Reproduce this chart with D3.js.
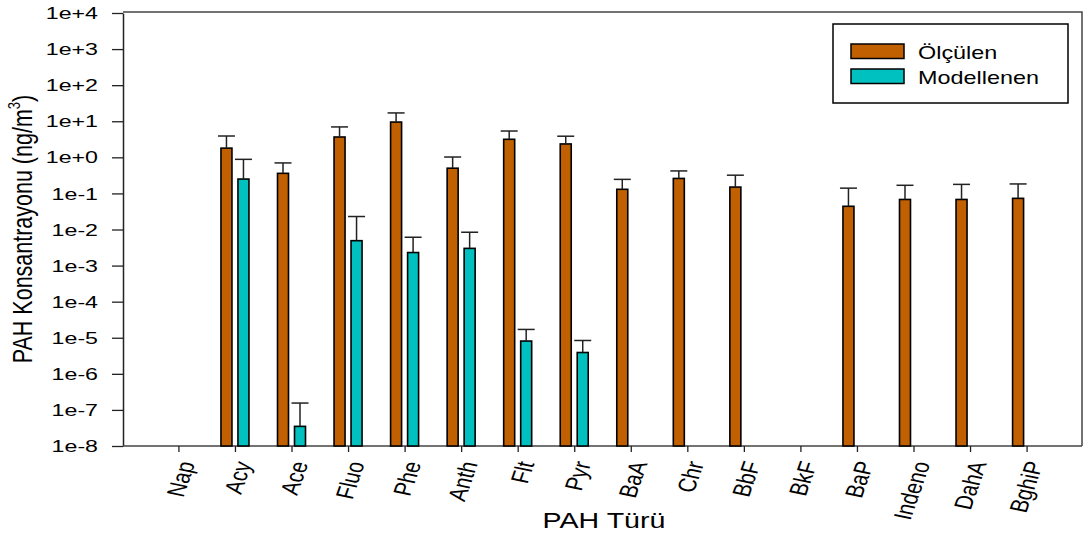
<!DOCTYPE html>
<html>
<head>
<meta charset="utf-8">
<script src="https://cdn.jsdelivr.net/npm/d3@7"></script>
<style>
  html, body { margin: 0; padding: 0; background: #fff; }
  svg { display: block; font-family: "Liberation Sans", Arial, sans-serif; }
</style>
</head>
<body>
<svg id="chart" width="1084" height="538"></svg>
<script>
// PAH species on the x axis
const categories = ["Nap", "Acy", "Ace", "Fluo", "Phe", "Anth", "Flt", "Pyr",
                    "BaA", "Chr", "BbF", "BkF", "BaP", "Indeno", "DahA", "BghiP"];

// Measured concentrations (ng/m3) and their standard deviations
const measured   = [null, 1.8, 0.36, 3.66, 9.5, 0.5, 3.16, 2.35,
                    0.13, 0.26, 0.15, null, 0.044, 0.068, 0.068, 0.073];
const measuredSd = [null, 2.1, 0.34, 3.3, 7.5, 0.52, 2.2, 1.5,
                    0.115, 0.16, 0.17, null, 0.096, 0.10, 0.11, 0.11];

// Modelled concentrations (ng/m3) and their standard deviations
const modelled   = [null, 0.25, 3.5e-8, 0.0049, 0.0023, 0.003, 8.1e-6, 3.9e-6,
                    null, null, null, null, null, null, null, null];
const modelledSd = [null, 0.63, 1.2e-7, 0.018, 0.0038, 0.0054, 8.9e-6, 4.5e-6,
                    null, null, null, null, null, null, null, null];

const seriesNames = ["Ölçülen", "Modellenen"];
const seriesColors = ["#c06000", "#00c0c0"];
const yTicks = [1e-8, 1e-7, 1e-6, 1e-5, 1e-4, 1e-3, 1e-2, 1e-1, 1, 1e1, 1e2, 1e3, 1e4];

const svg = d3.select("#chart");
const plotLeft = 123, plotRight = 1082, plotTop = 13, plotBottom = 446;
const textStretch = 1.3;

const x = d3.scalePoint().domain(categories).range([plotLeft, plotRight]).padding(0.98);
const y = d3.scaleLog().domain([1e-8, 1e4]).range([plotBottom, plotTop]);
const xs = d3.scaleBand().domain(seriesNames).range([-14, 14]).paddingInner(0.353).paddingOuter(0);

// plot frame (top and right)
svg.append("path")
  .attr("d", `M${plotLeft},${plotTop - 1}H${plotRight}V${plotBottom}`)
  .attr("fill", "none").attr("stroke", "#444").attr("stroke-width", 1.5);

// y axis
const yAxis = svg.append("g").attr("transform", `translate(${plotLeft},0)`)
  .call(d3.axisLeft(y).tickValues(yTicks).tickSize(11).tickSizeOuter(0)
    .tickFormat(d => { const e = Math.round(Math.log10(d)); return "1e" + (e >= 0 ? "+" : "") + e; }));
yAxis.select(".domain").attr("stroke", "#222").attr("stroke-width", 1.5);
yAxis.selectAll(".tick line").attr("stroke", "#222").attr("stroke-width", 1.3);
yAxis.selectAll(".tick text")
  .attr("x", 0).attr("dy", "0.35em")
  .attr("transform", "translate(-25,0) scale(1.45,1)")
  .attr("font-size", 16).attr("fill", "#000");

// x axis
const xAxis = svg.append("g").attr("transform", `translate(0,${plotBottom})`)
  .call(d3.axisBottom(x).tickSize(6).tickSizeOuter(0));
xAxis.select(".domain").attr("stroke", "#444").attr("stroke-width", 1.5)
  .attr("d", `M${plotLeft},0H${plotRight}`);
xAxis.selectAll(".tick line").attr("stroke", "#222").attr("stroke-width", 1.3);
xAxis.selectAll(".tick text")
  .attr("x", 0).attr("y", 0).attr("dy", "0.3em")
  .attr("text-anchor", "end")
  .attr("transform", `translate(9,16) scale(${textStretch},1) rotate(-75)`)
  .attr("font-size", 19.5).attr("fill", "#000");

// bars with upper error bars
const series = [
  { name: seriesNames[0], values: measured, sd: measuredSd, color: seriesColors[0] },
  { name: seriesNames[1], values: modelled, sd: modelledSd, color: seriesColors[1] }
];
series.forEach(s => {
  const rows = categories.map((c, i) => ({ c, v: s.values[i], e: s.sd[i] })).filter(d => d.v != null);
  const g = svg.append("g");
  g.selectAll("rect").data(rows).join("rect")
    .attr("x", d => x(d.c) + xs(s.name))
    .attr("y", d => y(d.v))
    .attr("width", xs.bandwidth())
    .attr("height", d => y(1e-8) - y(d.v))
    .attr("fill", s.color).attr("stroke", "#000").attr("stroke-width", 1.6);
  const eb = g.selectAll("g.err").data(rows).join("g").attr("class", "err")
    .attr("transform", d => `translate(${x(d.c) + xs(s.name) + xs.bandwidth() / 2},0)`);
  eb.append("line").attr("y1", d => y(d.v)).attr("y2", d => y(d.v + d.e))
    .attr("stroke", "#222").attr("stroke-width", 1.5);
  eb.append("line").attr("x1", -8.5).attr("x2", 8.5)
    .attr("y1", d => y(d.v + d.e)).attr("y2", d => y(d.v + d.e))
    .attr("stroke", "#222").attr("stroke-width", 1.5);
});

// axis titles
svg.append("text")
  .attr("transform", `translate(604,528) scale(${textStretch},1)`)
  .attr("text-anchor", "middle").attr("font-size", 22).text("PAH Türü");

const yTitle = svg.append("text")
  .attr("transform", `translate(32,229) scale(${textStretch},1) rotate(-90)`)
  .attr("text-anchor", "middle").attr("font-size", 21.5);
yTitle.append("tspan").text("PAH Konsantrayonu (ng/m");
yTitle.append("tspan").attr("font-size", 13).attr("dy", -9).text("3");
yTitle.append("tspan").attr("dy", 9).text(")");

// legend
const lg = svg.append("g");
lg.append("rect").attr("x", 833).attr("y", 24).attr("width", 235).attr("height", 79)
  .attr("fill", "#fff").attr("stroke", "#000").attr("stroke-width", 1.5);
seriesNames.forEach((n, i) => {
  lg.append("rect").attr("x", 851).attr("y", 44 + i * 25).attr("width", 53).attr("height", 14.5)
    .attr("fill", seriesColors[i]).attr("stroke", "#000").attr("stroke-width", 1.5);
  lg.append("text").attr("transform", `translate(918,${59 + i * 25}) scale(${textStretch},1)`)
    .attr("font-size", 18).text(n);
});
</script>
</body>
</html>
